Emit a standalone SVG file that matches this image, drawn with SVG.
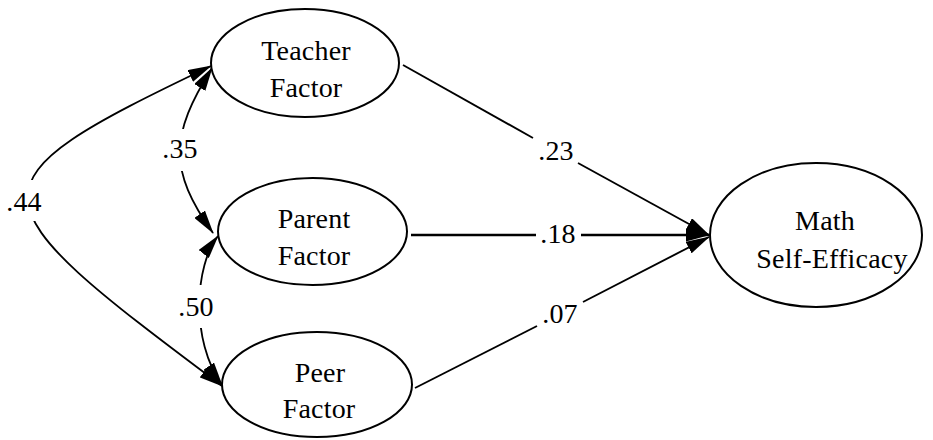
<svg xmlns="http://www.w3.org/2000/svg" width="933" height="440" viewBox="0 0 933 440">
  <style>
    .node ellipse { fill: #ffffff; stroke: #000000; stroke-width: 2; }
    text { font-family: "Liberation Serif", "Times New Roman", serif; font-size: 28px; letter-spacing: 0.2px; fill: #000000; text-anchor: middle; }
    .path { fill: none; stroke: #000000; stroke-width: 1.9; }
    .path.thick { stroke-width: 2.6; }
    .cov { fill: none; stroke: #000000; stroke-width: 1.8; }
    .gap { fill: #ffffff; stroke: none; }
  </style>
  <defs>
    <marker id="arrow" viewBox="0 0 24 13" markerWidth="24" markerHeight="13" refX="23" refY="6.5" markerUnits="userSpaceOnUse" orient="auto-start-reverse">
      <path d="M0,0 L24,6.5 L0,13 Z" fill="#000000"/>
    </marker>
  </defs>

  <!-- connectors -->
  <g id="connectors">
    <!-- covariances between the predictors -->
    <path class="cov" d="M211,66 C-38,185 -32,196 222,386" marker-start="url(#arrow)" marker-end="url(#arrow)"/>
    <path class="cov" d="M212,68 C170,135 168,170 213,233" marker-start="url(#arrow)" marker-end="url(#arrow)"/>
    <path class="cov" d="M218,236 C195,265 190,340 222,385" marker-start="url(#arrow)" marker-end="url(#arrow)"/>
    <rect class="gap" x="4" y="180" width="42" height="41"/>
    <rect class="gap" x="160" y="129" width="40" height="42"/>
    <rect class="gap" x="176" y="285" width="40" height="43"/>
    <text x="24" y="211">.44</text>
    <text x="180" y="158">.35</text>
    <text x="196" y="316">.50</text>

    <!-- regression paths -->
    <path class="path" d="M403,65 L533,138"/>
    <path class="path" d="M578,163 L709,235" marker-end="url(#arrow)"/>
    <path class="path thick" d="M411,235 L536,235"/>
    <path class="path thick" d="M581,235 L709,235" marker-end="url(#arrow)"/>
    <path class="path" d="M415,388 L537,326"/>
    <path class="path" d="M583,302 L709,237" marker-end="url(#arrow)"/>
    <text x="556" y="160">.23</text>
    <text x="558" y="243">.18</text>
    <text x="560" y="323">.07</text>
  </g>

  <!-- nodes -->
  <g id="teacher" class="node">
    <ellipse cx="305" cy="63" rx="94" ry="54"/>
    <text x="306" y="60">Teacher</text>
    <text x="306" y="97">Factor</text>
  </g>
  <g id="parent" class="node">
    <ellipse cx="312.5" cy="231.5" rx="94.5" ry="53.5"/>
    <text x="314" y="228">Parent</text>
    <text x="314" y="265">Factor</text>
  </g>
  <g id="peer" class="node">
    <ellipse cx="317" cy="384.5" rx="95" ry="52.5"/>
    <text x="320" y="382">Peer</text>
    <text x="319" y="418">Factor</text>
  </g>
  <g id="math" class="node">
    <ellipse cx="816" cy="235" rx="106" ry="72"/>
    <text x="825" y="230">Math</text>
    <text x="832" y="268">Self-Efficacy</text>
  </g>
</svg>
